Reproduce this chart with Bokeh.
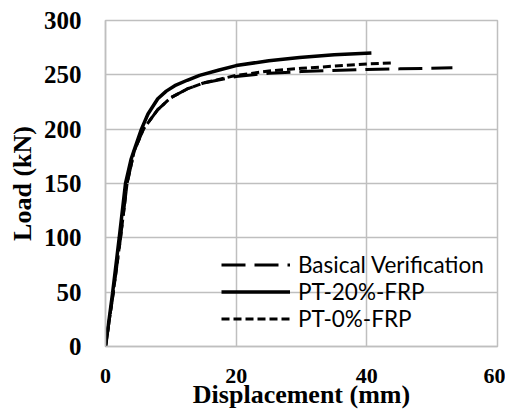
from bokeh.plotting import figure
from bokeh.models import Range1d, FixedTicker, Legend, LegendItem
from bokeh.embed import file_html
from bokeh.resources import INLINE

# Data
pt20_x = [0, 1.1, 2.1, 3.06, 3.9, 4.4, 5.5, 6.5, 8, 9.3, 10.6, 12.5, 14.4, 17.4, 20, 25, 29.7, 35, 40.7]
pt20_y = [0, 50, 100, 150, 172, 181, 200, 214, 228, 235, 240, 245, 249.5, 254.5, 258.5, 263, 266, 268.5, 270]

basic_x = [0, 1.2, 2.3, 3.3, 4.4, 5.8, 8, 10, 12.5, 15, 20, 25, 30, 40, 45, 53.1]
basic_y = [0, 50, 100, 150, 180, 200, 218, 229, 237, 242.5, 248.5, 251.5, 253, 255, 255.5, 256.5]

pt0_x = [0, 1.2, 2.3, 3.3, 4.4, 5.8, 8, 10, 12.5, 15, 20, 25, 30, 35, 40, 43.7]
pt0_y = [0, 50, 100, 150, 180, 200, 218, 229, 237, 242.5, 249.5, 253.5, 256, 258, 260, 261]

x_ticks = [0, 20, 40, 60]
y_ticks = [0, 50, 100, 150, 200, 250, 300]

p = figure(frame_width=392, frame_height=326, output_backend="svg", toolbar_location=None,
           x_range=Range1d(0, 60), y_range=Range1d(0, 300),
           min_border_left=105, min_border_right=8, min_border_top=20, min_border_bottom=50)

grid_col = "#bfbfbf"
p.outline_line_color = grid_col
p.outline_line_width = 1.5
for g in (p.xgrid, p.ygrid):
    g.grid_line_color = grid_col
    g.grid_line_width = 1.5

p.xaxis.ticker = FixedTicker(ticks=x_ticks)
p.yaxis.ticker = FixedTicker(ticks=y_ticks)
for ax in (p.xaxis, p.yaxis):
    ax.axis_line_color = grid_col
    ax.axis_line_width = 1.5
    ax.major_tick_out = 0
    ax.major_tick_in = 0
    ax.minor_tick_out = 0
    ax.minor_tick_in = 0
    ax.major_label_text_font = "Liberation Serif"
    ax.major_label_text_font_style = "bold"
    ax.major_label_text_color = "black"
    ax.axis_label_text_font = "Liberation Serif"
    ax.axis_label_text_font_style = "bold"
    ax.axis_label_text_color = "black"
    ax.axis_label_text_font_size = "26px"

p.xaxis.major_label_text_font_size = "22px"
p.yaxis.major_label_text_font_size = "25px"
p.xaxis.major_label_standoff = 22
p.yaxis.major_label_standoff = 24
p.xaxis.axis_label = "Displacement (mm)"
p.yaxis.axis_label = "Load (kN)"
p.xaxis.axis_label_standoff = -6
p.yaxis.axis_label_standoff = 4

r_basic = p.line(basic_x, basic_y, line_color="black", line_width=3, line_dash="24 9")
r_pt20 = p.line(pt20_x, pt20_y, line_color="black", line_width=3.5)
r_pt0 = p.line(pt0_x, pt0_y, line_color="black", line_width=3, line_dash="8 4")

legend = Legend(items=[
    LegendItem(label="Basical Verification", renderers=[r_basic]),
    LegendItem(label="PT-20%-FRP", renderers=[r_pt20]),
    LegendItem(label="PT-0%-FRP", renderers=[r_pt0]),
], location=(116, 14))
legend.background_fill_alpha = 0
legend.border_line_alpha = 0
legend.padding = 0
legend.margin = 0
legend.spacing = 0
legend.glyph_width = 69
legend.glyph_height = 27
legend.label_height = 27
legend.label_standoff = 8
legend.label_text_font = "Lato"
legend.label_text_font_size = "22.5px"
legend.label_text_color = "black"
p.add_layout(legend, "center")

open("out.html", "w").write(file_html(p, INLINE))
